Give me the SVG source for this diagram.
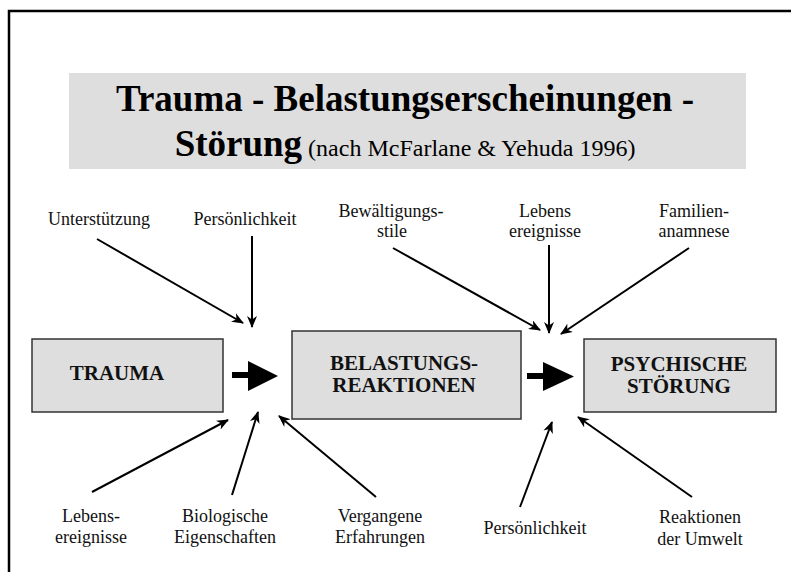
<svg xmlns="http://www.w3.org/2000/svg" width="791" height="572" viewBox="0 0 791 572">
<style>
.box{fill:#dedede;stroke:#333;stroke-width:1.5}
.lbl{font-family:"Liberation Serif","Times New Roman",serif;font-size:18px;fill:#111;text-anchor:middle}
.bx{font-family:"Liberation Serif","Times New Roman",serif;font-size:21px;font-weight:bold;fill:#111;text-anchor:middle}
.con{stroke:#000;stroke-width:2;fill:none;marker-end:url(#ah)}
</style>
<defs>
<marker id="ah" viewBox="0 0 12 10" refX="11" refY="5" markerWidth="6" markerHeight="5" orient="auto" markerUnits="strokeWidth">
<path d="M0,0 L12,5 L0,10 L3.5,5 z" fill="#000"/>
</marker>
</defs>
<rect width="791" height="572" fill="#fff"/>
<path d="M9,572 V11 H791" fill="none" stroke="#000" stroke-width="2.5"/>
<g id="title">
<rect x="69" y="73" width="677" height="96" fill="#dedede"/>
<text x="405" y="111" font-family="Liberation Serif,'Times New Roman',serif" font-size="37" font-weight="bold" text-anchor="middle" fill="#000">Trauma - Belastungserscheinungen -</text>
<text x="405" y="156" font-family="Liberation Serif,'Times New Roman',serif" text-anchor="middle" fill="#000"><tspan font-size="37" font-weight="bold">Störung</tspan><tspan font-size="24"> (nach McFarlane &amp; Yehuda 1996)</tspan></text>
</g>
<g id="trauma">
<rect class="box" x="32" y="339" width="191" height="73"/>
<text class="bx" x="117" y="380">TRAUMA</text>
</g>
<g id="belastung">
<rect class="box" x="292" y="331" width="229" height="88"/>
<text class="bx" x="404" y="370">BELASTUNGS-</text>
<text class="bx" x="404" y="392">REAKTIONEN</text>
</g>
<g id="stoerung">
<rect class="box" x="584" y="339" width="192" height="73"/>
<text class="bx" x="679" y="371">PSYCHISCHE</text>
<text class="bx" x="679" y="393">STÖRUNG</text>
</g>
<g id="labels">
<text class="lbl" x="99" y="225">Unterstützung</text>
<text class="lbl" x="245" y="225">Persönlichkeit</text>
<text class="lbl" x="391" y="217">Bewältigungs-</text>
<text class="lbl" x="392" y="237">stile</text>
<text class="lbl" x="545" y="217">Lebens</text>
<text class="lbl" x="545" y="237">ereignisse</text>
<text class="lbl" x="694" y="217">Familien-</text>
<text class="lbl" x="694" y="237">anamnese</text>
<text class="lbl" x="91" y="522">Lebens-</text>
<text class="lbl" x="91" y="543">ereignisse</text>
<text class="lbl" x="225" y="522">Biologische</text>
<text class="lbl" x="225" y="543">Eigenschaften</text>
<text class="lbl" x="380" y="522">Vergangene</text>
<text class="lbl" x="380" y="543">Erfahrungen</text>
<text class="lbl" x="535" y="534">Persönlichkeit</text>
<text class="lbl" x="700" y="523">Reaktionen</text>
<text class="lbl" x="700" y="545">der Umwelt</text>
</g>
<g id="connectors">
<rect x="232" y="372" width="17" height="6" fill="#000"/>
<path d="M248,361 L278,376 L248,391 z" fill="#000"/>
<rect x="527" y="373" width="17" height="6" fill="#000"/>
<path d="M543,362 L574,376.5 L543,391 z" fill="#000"/>
<line class="con" x1="97" y1="239" x2="243" y2="323"/>
<line class="con" x1="252" y1="236" x2="252" y2="327"/>
<line class="con" x1="393" y1="248" x2="540" y2="330"/>
<line class="con" x1="549" y1="245" x2="549" y2="333"/>
<line class="con" x1="689" y1="248" x2="561" y2="334"/>
<line class="con" x1="92" y1="492" x2="228" y2="420"/>
<line class="con" x1="232" y1="495" x2="258" y2="412"/>
<line class="con" x1="376" y1="497" x2="279" y2="416"/>
<line class="con" x1="520" y1="507" x2="552" y2="422"/>
<line class="con" x1="692" y1="497" x2="578" y2="417"/>
</g>
</svg>
